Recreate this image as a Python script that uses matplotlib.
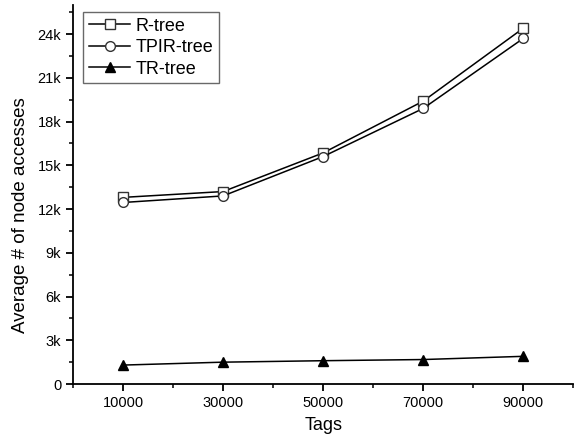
import numpy as np
import matplotlib.pyplot as plt
from matplotlib.ticker import MultipleLocator, FuncFormatter

plt.rcParams['font.family'] = ['Liberation Sans', 'DejaVu Sans']

tags = [10000, 30000, 50000, 70000, 90000]
r_tree = [12800, 13200, 15850, 19400, 24400]
tpir_tree = [12450, 12900, 15600, 18900, 23700]
tr_tree = [1300, 1500, 1600, 1680, 1900]

fig = plt.figure(figsize=(5.75, 4.45), dpi=100)
ax = fig.add_axes([0.127, 0.137, 0.870, 0.852])

ax.plot(tags, r_tree, '-s', color='black', lw=1.1, ms=7, mfc='white', mec='#333333', label='R-tree')
ax.plot(tags, tpir_tree, '-o', color='black', lw=1.1, ms=7, mfc='white', mec='#333333', label='TPIR-tree')
ax.plot(tags, tr_tree, '-^', color='black', lw=1.1, ms=7, mfc='black', label='TR-tree')

ax.set_xlim(0, 100000)
ax.set_ylim(0, 26000)
ax.set_xticks(tags)
ax.xaxis.set_minor_locator(MultipleLocator(10000))
ax.yaxis.set_major_locator(MultipleLocator(3000))
ax.yaxis.set_minor_locator(MultipleLocator(1500))
ax.yaxis.set_major_formatter(FuncFormatter(lambda v, p: '0' if v == 0 else '%dk' % (v / 1000)))

for s in ['top', 'right']:
    ax.spines[s].set_visible(False)
for s in ['left', 'bottom']:
    ax.spines[s].set_linewidth(1.3)
ax.tick_params(which='major', direction='out', length=5, width=1.3, labelsize=10.5)
ax.tick_params(which='minor', direction='out', length=3, width=1.1)

ax.set_xlabel('Tags', fontsize=13, labelpad=5)
ax.set_ylabel('Average # of node accesses', fontsize=13.5)
ax.yaxis.set_label_coords(-0.088, 0.445)

leg = ax.legend(loc='upper left', bbox_to_anchor=(0.01, 0.995), fontsize=13, frameon=True,
                fancybox=False, edgecolor='#444444', handlelength=2.3, borderpad=0.3,
                labelspacing=0.25, handletextpad=0.3, borderaxespad=0.3)
leg.get_frame().set_linewidth(1.0)

fig.savefig('out.png', dpi=100)
